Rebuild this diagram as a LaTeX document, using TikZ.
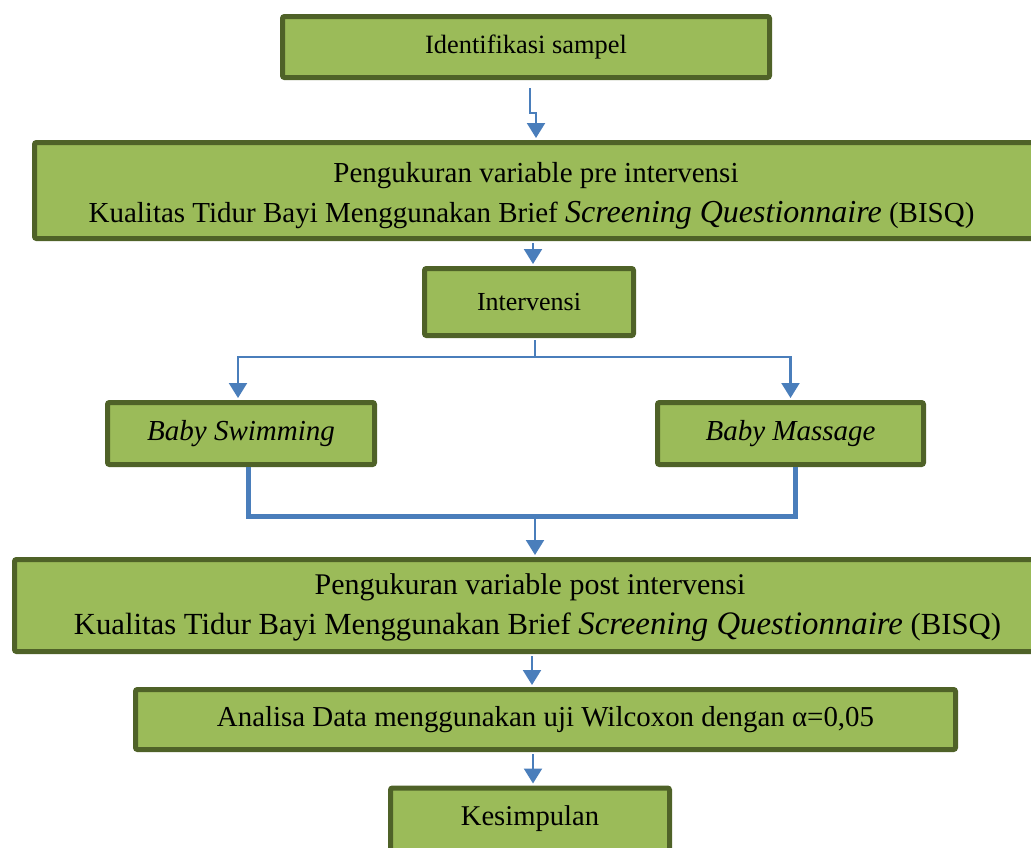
\documentclass[tikz,border=0pt]{standalone}
\usepackage{fontspec}
\setmainfont{Liberation Serif}
\usetikzlibrary{arrows.meta,calc}
\definecolor{lg}{HTML}{9BBB59}
\definecolor{dg}{HTML}{4F6228}
\definecolor{ln}{HTML}{4A7EBB}
\newcommand{\bigit}[2]{{\fontsize{#1}{40}\selectfont\itshape #2}}
\tikzset{
  box/.style={draw=dg, line width=5pt, fill=lg, rounded corners=2pt, align=center, inner sep=0pt},
  inlbl/.style={align=center, inner sep=0pt},
  arr/.style={draw=ln, line width=2.2pt, -{Triangle[width=18pt,length=15pt]}},
  thk/.style={draw=ln, line width=5pt},
}
\begin{document}
\begin{tikzpicture}[x=1pt,y=-1pt]
\useasboundingbox (0,0) rectangle (1031,847);
\clip (0,0) rectangle (1031,847);
\node[box, minimum width=487, minimum height=61, font={\fontsize{26.4}{31}\selectfont}] (id) at (526,47) {Identifikasi sampel};
\node[box, minimum width=1003, minimum height=96,
  label={[inlbl, yshift=-5.5pt, font={\fontsize{29}{40}\selectfont}]center:Pengukuran variable pre intervensi\\Kualitas Tidur Bayi Menggunakan Brief \bigit{32}{Screening Questionnaire} (BISQ)\hspace*{9pt}}] (pre) at (536,190.5) {};
\node[box, minimum width=209, minimum height=67, font={\fontsize{26}{31}\selectfont}] (intv) at (529,302) {Intervensi};
\node[box, minimum width=267, minimum height=62, font={\fontsize{29}{34}\selectfont}] (swim) at (241,433.5) {\textit{Baby Swimming}};
\node[box, minimum width=266, minimum height=62, font={\fontsize{29}{34}\selectfont}] (mass) at (790.5,433.5) {\textit{Baby Massage}};
\node[box, minimum width=1039, minimum height=92,
  label={[inlbl, yshift=-2.5pt, font={\fontsize{30}{40}\selectfont}]center:Pengukuran variable post intervensi\hspace*{8pt}\\\hspace*{7pt}{\fontsize{30.7}{40}\selectfont Kualitas Tidur Bayi Menggunakan Brief \bigit{32.8}{Screening Questionnaire} (BISQ)}}] (post) at (534,605.5) {};
\node[box, minimum width=820, minimum height=60, font={\fontsize{28.9}{34}\selectfont}] (ana) at (545.5,719.5) {Analisa Data menggunakan uji Wilcoxon dengan α=0,05};
\node[box, minimum width=279, minimum height=75, anchor=north,
  label={[font={\fontsize{28.6}{33}\selectfont}, yshift=7pt]center:Kesimpulan}] (kes) at (530,785.5) {};
% connectors
\draw[arr] ($(id.south)+(4,8)$) -- ++(0,25) -| ($(pre.north)+(0,-2)$);
\draw[arr] ($(pre.south)+(-3,2)$) -- ($(intv.north)+(4,-2)$);
\coordinate (fork) at ($(intv.south)+(6,19)$);
\draw[draw=ln, line width=2.2pt] ($(intv.south)+(6,2)$) -- (fork);
\draw[arr] (fork) -| ($(swim.north)+(-3,-2)$);
\draw[arr] (fork) -| ($(mass.north)+(0,-2)$);
\coordinate (merge) at ($(swim.south)+(7,49)$);
\draw[thk] ($(swim.south)+(7,0)$) -- (merge) -| ($(mass.south)+(4.5,0)$);
\draw[arr] ($(merge)+(287,0)$) -- ($(post.north)+(1,-2)$);
\draw[arr] ($(post.south)+(-2,2)$) -- ($(ana.north)+(-13.5,-2)$);
\draw[arr] ($(ana.south)+(-12.5,2)$) -- ($(kes.north)+(3,-2)$);
\end{tikzpicture}
\end{document}
